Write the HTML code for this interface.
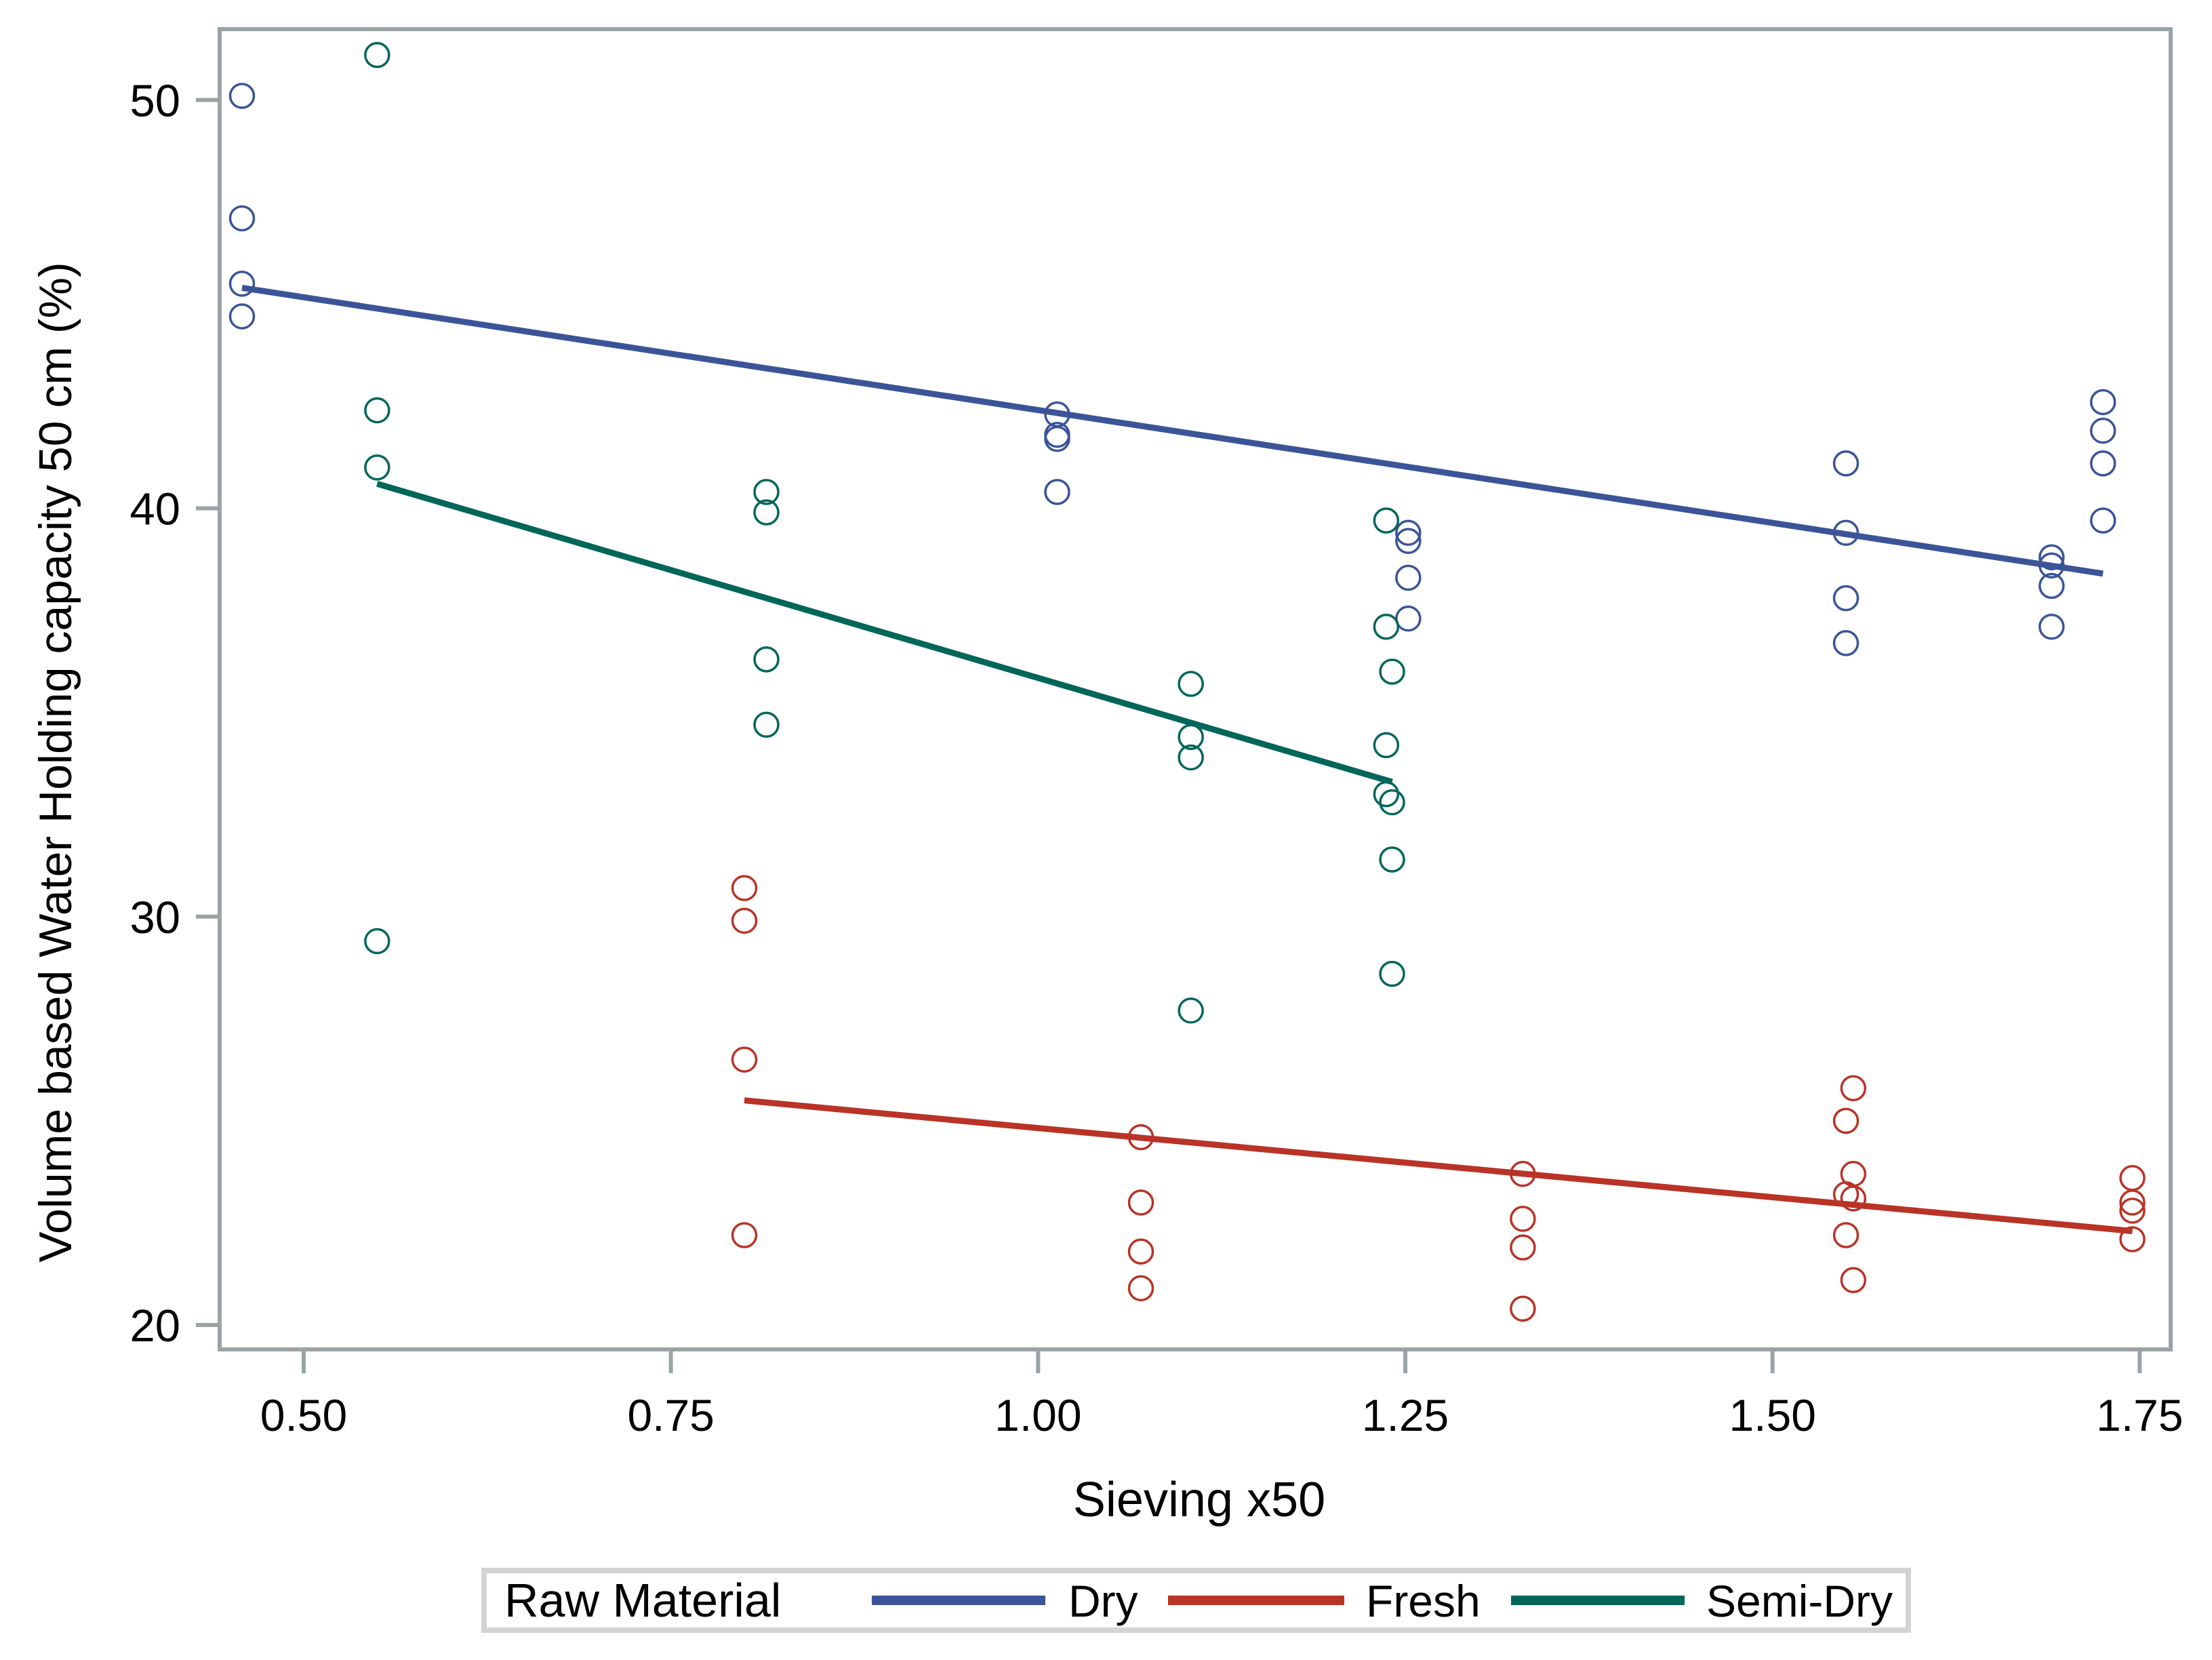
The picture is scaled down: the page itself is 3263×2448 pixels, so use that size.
<!DOCTYPE html>
<html><head><meta charset="utf-8"><style>
html,body{margin:0;padding:0;background:#fff}
svg{display:block}
text{font-family:"Liberation Sans",Arial,sans-serif;fill:#000}
</style></head><body>
<svg id="chart" width="3263" height="2448" viewBox="0 0 3263 2448" xmlns="http://www.w3.org/2000/svg">
<rect x="324" y="43" width="2878" height="1947" fill="none" stroke="#9ba3a5" stroke-width="6"/>
<g id="axes"></g>
<g id="lines"></g>
<g id="points"></g>
<text x="1769" y="2236" font-size="72" text-anchor="middle">Sieving x50</text>
<text transform="translate(105,1124) rotate(-90)" font-size="68" text-anchor="middle">Volume based Water Holding capacity  50 cm (%)</text>
<g>
<rect x="714" y="2316" width="2101" height="88" fill="#fff" stroke="#d3d3d3" stroke-width="8"/>
<text x="744" y="2384" font-size="70">Raw Material</text>
<rect x="1286" y="2353" width="256" height="14" fill="#3b5498"/>
<text x="1576" y="2384" font-size="66">Dry</text>
<rect x="1723" y="2353" width="260" height="14" fill="#b93327"/>
<text x="2015" y="2384" font-size="66">Fresh</text>
<rect x="2229" y="2353" width="256" height="14" fill="#00665a"/>
<text x="2517" y="2384" font-size="66">Semi-Dry</text>
</g>
</svg>
<script>
const xTicks=[0.50,0.75,1.00,1.25,1.50,1.75];
const xTickLabels=["0.50","0.75","1.00","1.25","1.50","1.75"];
const yTicks=[20,30,40,50];
const yTickLabels=["20","30","40","50"];
const dryX=[0.458,0.458,0.458,0.458,1.013,1.013,1.013,1.013,1.252,1.252,1.252,1.252,1.55,1.55,1.55,1.55,1.69,1.69,1.69,1.69,1.725,1.725,1.725,1.725];
const dryY=[50.1,47.1,45.5,44.7,42.3,41.8,41.7,40.4,39.4,39.2,38.3,37.3,41.1,39.4,37.8,36.7,38.8,38.6,38.1,37.1,42.6,41.9,41.1,39.7];
const semiX=[0.55,0.55,0.55,0.55,0.815,0.815,0.815,0.815,1.104,1.104,1.104,1.104,1.237,1.237,1.237,1.237,1.241,1.241,1.241,1.241];
const semiY=[51.1,42.4,41.0,29.4,40.4,39.9,36.3,34.7,35.7,34.4,33.9,27.7,39.7,37.1,34.2,33.0,36.0,32.8,31.4,28.6];
const freshX=[0.80,0.80,0.80,0.80,1.07,1.07,1.07,1.07,1.33,1.33,1.33,1.33,1.555,1.55,1.555,1.55,1.555,1.55,1.555,1.745,1.745,1.745,1.745];
const freshY=[30.7,29.9,26.5,22.2,24.6,23.0,21.8,20.9,23.7,22.6,21.9,20.4,25.8,25.0,23.7,23.2,23.1,22.2,21.1,23.6,23.0,22.8,22.1];
const dryFitX=[0.458,1.725];
const dryFitY=[45.4,38.4];
const semiFitX=[0.55,1.241];
const semiFitY=[40.6,33.3];
const freshFitX=[0.80,1.745];
const freshFitY=[25.5,22.3];

const NS="http://www.w3.org/2000/svg";
function sx(v){return 448+(v-0.5)*2166.7;}
function sy(v){return 1954-(v-20)*60.22;}
function mk(tag,attrs,parent){const e=document.createElementNS(NS,tag);for(const k in attrs)e.setAttribute(k,attrs[k]);parent.appendChild(e);return e;}
const axes=document.getElementById('axes');
xTicks.forEach((t,i)=>{
  const l=mk('line',{x1:sx(t),x2:sx(t),y1:1990,y2:2025,stroke:'#9ba3a5','stroke-width':6},axes);
  
  
  const tx=mk('text',{x:sx(t),y:2110,'font-size':66,'text-anchor':'middle'},axes);
  tx.textContent=xTickLabels[i];
  
  
});
yTicks.forEach((t,i)=>{
  const l=mk('line',{x1:289,x2:324,y1:sy(t),y2:sy(t),stroke:'#9ba3a5','stroke-width':6},axes);
  
  
  const tx=mk('text',{x:266,y:sy(t)+24,'font-size':67,'text-anchor':'end'},axes);
  tx.textContent=yTickLabels[i];
  
  
});
const lines=document.getElementById('lines');
function fit(xs,ys,color,name){
  const l=mk('line',{x1:sx(xs[0]),y1:sy(ys[0]),x2:sx(xs[1]),y2:sy(ys[1]),stroke:color,'stroke-width':9},lines);
  
  
}
fit(dryFitX,dryFitY,'#3b5498','dry-fit-line');
fit(semiFitX,semiFitY,'#00665a','semi-dry-fit-line');
fit(freshFitX,freshFitY,'#b93327','fresh-fit-line');
const pts=document.getElementById('points');
function scatter(xs,ys,color,name){
  xs.forEach((x,i)=>{
    const c=mk('circle',{cx:sx(x),cy:sy(ys[i]),r:17.5,fill:'none',stroke:color,'stroke-width':3.5},pts);
    
    
  });
}
scatter(dryX,dryY,'#3b5498','dry-point');
scatter(semiX,semiY,'#00665a','semi-dry-point');
scatter(freshX,freshY,'#b93327','fresh-point');
</script>
</body></html>
